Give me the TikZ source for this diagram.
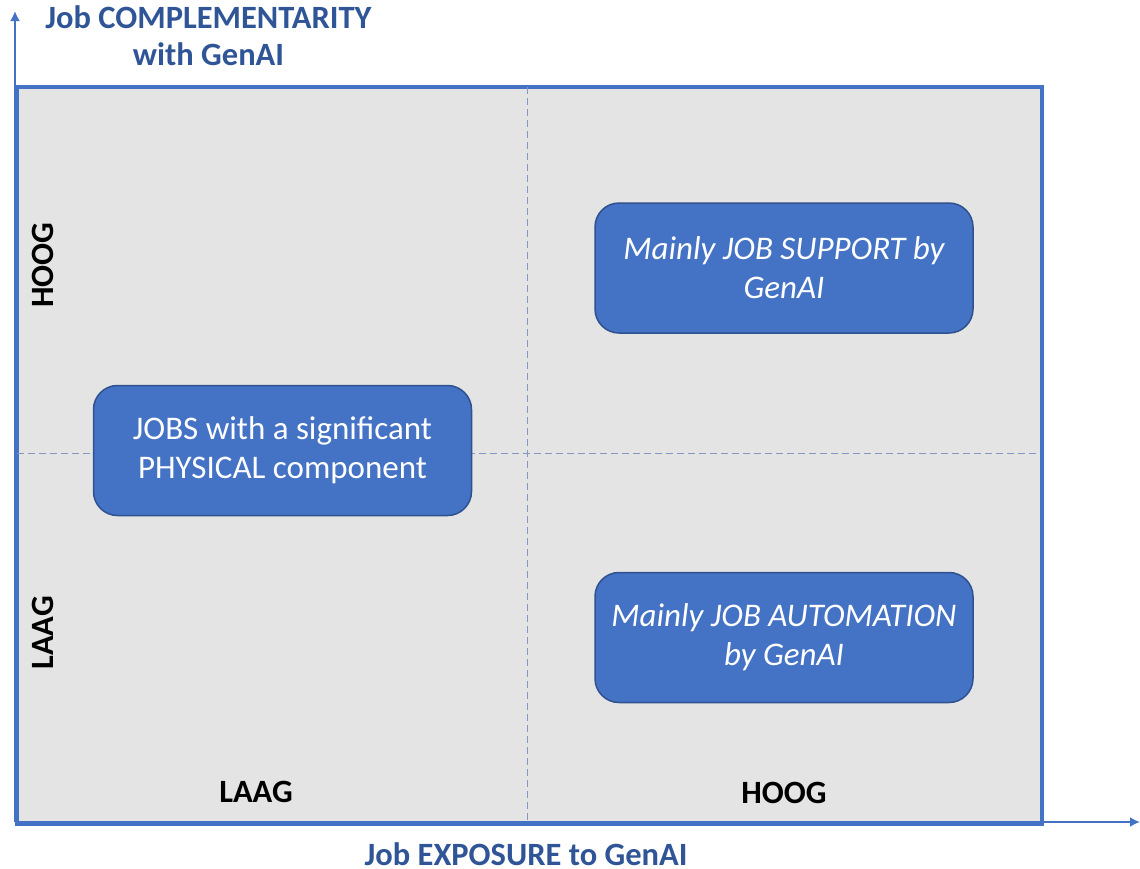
\documentclass[tikz,border=0pt]{standalone}
\usepackage{fontspec}
\setmainfont{Carlito}
\usetikzlibrary{arrows.meta}
\definecolor{framefill}{HTML}{E4E4E4}
\definecolor{frameblue}{HTML}{4472C4}
\definecolor{titleblue}{HTML}{2F5597}
\definecolor{boxedge}{HTML}{2F528F}
\definecolor{dashcol}{HTML}{8496C2}
\tikzset{
  quadbox/.style={draw=boxedge, line width=1.5pt, fill=frameblue, rounded corners=24pt,
    minimum width=378pt, minimum height=130pt, text=white, align=center,
    font=\fontsize{33}{39}\selectfont, inner sep=0pt},
  quadboxit/.style={quadbox, font=\itshape\fontsize{33}{39}\selectfont},
  levellabel/.style={font=\bfseries\fontsize{32.5}{36}\selectfont, text=black, inner sep=0pt},
  axistitle/.style={font=\bfseries\fontsize{32.5}{37}\selectfont, text=titleblue, align=center, inner sep=0pt},
  axisline/.style={draw=frameblue, line width=2.5pt, -{Latex[length=10pt,width=10pt]}},
  divider/.style={draw=dashcol, line width=1pt, dash pattern=on 7pt off 4pt},
}
\begin{document}
\begin{tikzpicture}[x=1pt,y=-1pt]
\useasboundingbox (0,0) rectangle (1140,868);
% frame
\node[draw=frameblue, line width=4pt, fill=framefill, minimum width=1025pt, minimum height=737pt, inner sep=0pt, anchor=north west] (frame) at (15,85) {};
% dividers
\coordinate (vtop) at (527,87);
\coordinate (vbot) at (527,820);
\coordinate (hl) at (17,453);
\coordinate (hr) at (1038,453);
\draw[divider] (vtop) -- (vbot);
\draw[divider] (hl) -- (hr);
% axes
\coordinate (origin) at (15,822);
\coordinate (ytip) at (15,11);
\coordinate (xtip) at (1140,822);
\draw[axisline] (origin) -- (ytip);
\draw[axisline] (origin) -- (xtip);
% boxes
\node[quadboxit] (support) at (784,268) {Mainly JOB SUPPORT by\\GenAI};
\node[quadbox] (physical) at (282.5,450.5) {JOBS with a significant\\PHYSICAL component};
\node[quadboxit] (automation) at (784,637.5) {Mainly JOB AUTOMATION\\by GenAI};
% level labels
\node[levellabel, rotate=90] (yhigh) at (43,265) {HOOG};
\node[levellabel, rotate=90] (ylow) at (43,633) {LAAG};
\node[levellabel] (xlow) at (256,792) {LAAG};
\node[levellabel] (xhigh) at (784,793) {HOOG};
% axis titles
\node[axistitle] (ytitle) at (208.5,36) {Job COMPLEMENTARITY\\with GenAI};
\node[axistitle, anchor=base] (xtitle) at (526,865) {Job EXPOSURE to GenAI};
\end{tikzpicture}
\end{document}
